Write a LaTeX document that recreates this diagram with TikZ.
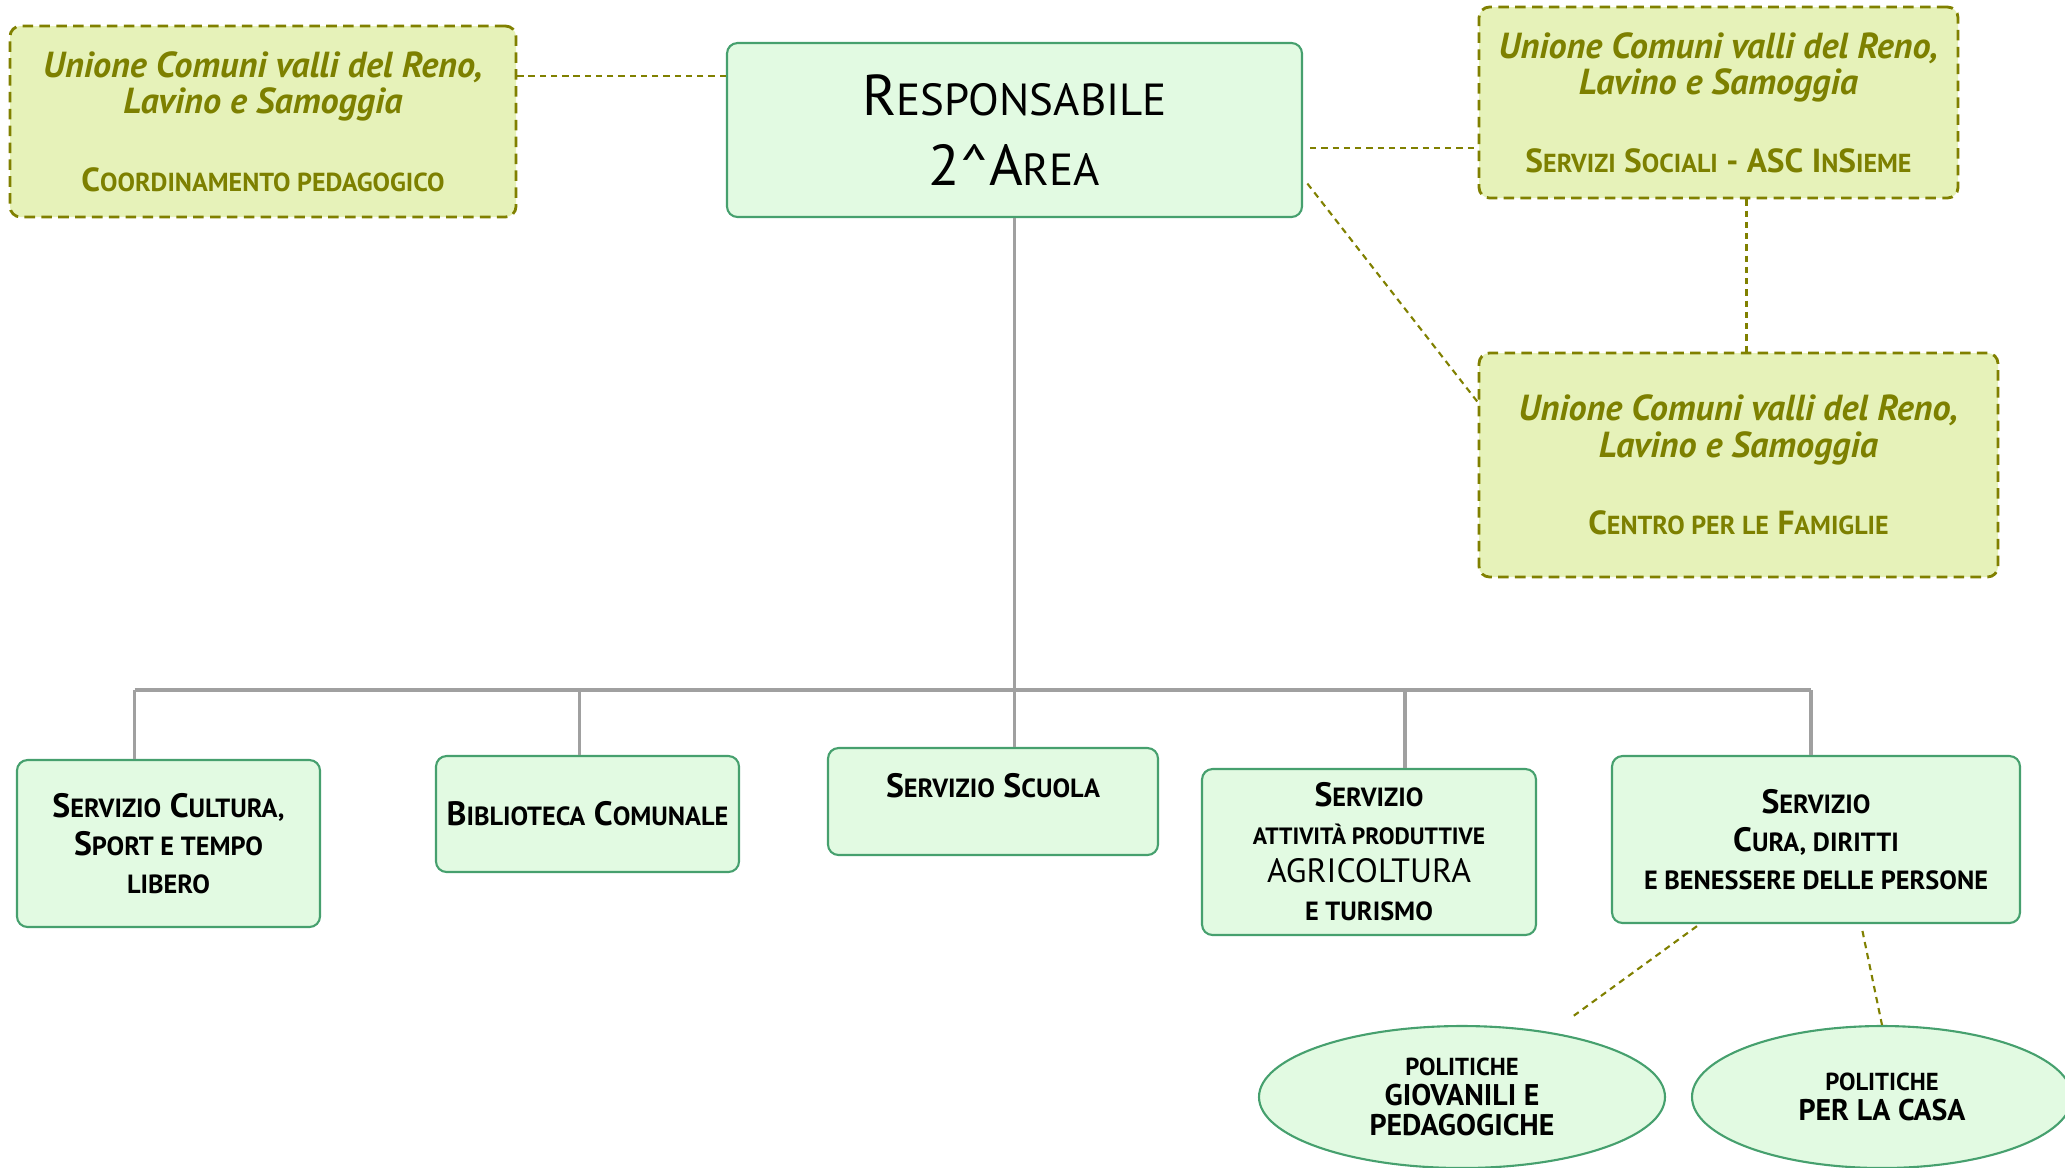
\documentclass[tikz,border=0pt]{standalone}
\usepackage{fontspec}
\setmainfont{PT Sans}
\usetikzlibrary{shapes.geometric}
\definecolor{boxfill}{RGB}{226,250,226}
\definecolor{boxline}{RGB}{70,160,110}
\definecolor{extfill}{RGB}{230,242,185}
\definecolor{olivetext}{RGB}{125,128,0}
\definecolor{olivedash}{RGB}{128,128,0}
\definecolor{treegray}{RGB}{160,160,160}
% small capitals made by hand
\makeatletter
\newcommand\lc[1]{{\@tempdima=\f@size pt\relax
  \@tempdima=.78\@tempdima
  \fontsize{\strip@pt\@tempdima}{\f@baselineskip}\selectfont #1}}
\makeatother
\newcommand\unione{\itshape Unione Comuni valli del Reno,\\ \itshape Lavino e Samoggia\\[11.5pt]
  \upshape\fontsize{9.5}{10.5}\selectfont}
\begin{document}
\begin{tikzpicture}[x=0.1mm,y=-0.1mm,
    box/.style={draw=boxline,fill=boxfill,line width=0.6pt,rounded corners=3pt,
      align=center,inner sep=0pt,font=\fontsize{9.6}{10.8}\selectfont\bfseries},
    ext/.style={draw=olivedash,fill=extfill,line width=0.8pt,dash pattern=on 3pt off 1.8pt,
      rounded corners=3pt,align=center,inner sep=0pt,text=olivetext,
      font=\fontsize{10.3}{10.5}\selectfont\bfseries},
    pol/.style={ellipse,draw=boxline,fill=boxfill,line width=0.6pt,align=center,
      inner sep=0pt,font=\fontsize{8.5}{8.5}\selectfont\bfseries},
    tree/.style={draw=treegray,line width=1pt},
    link/.style={draw=olivedash,line width=0.6pt,dash pattern=on 1.8pt off 1.4pt}]
  \useasboundingbox (0,0) rectangle (2065,1167);
  % upper row
  \node[ext,minimum width=50.6mm,minimum height=19.1mm] (coord) at (263,121.5)
    {\unione C\lc{OORDINAMENTO PEDAGOGICO}};
  \node[box,minimum width=57.5mm,minimum height=17.4mm,
    font=\fontsize{16.4}{20}\selectfont] (resp) at (1014.5,130)
    {R\lc{ESPONSABILE}\\ 2\textasciicircum A\lc{REA}};
  \node[ext,minimum width=47.9mm,minimum height=19.1mm] (asc) at (1718.5,102.5)
    {\unione S\lc{ERVIZI} S\lc{OCIALI} - ASC I\lc{N}S\lc{IEME}};
  \node[ext,minimum width=51.9mm,minimum height=22.4mm] (fam) at (1738.5,465)
    {\unione C\lc{ENTRO PER LE} F\lc{AMIGLIE}};
  \draw[link] ([yshift=5.4mm]resp.west) -- ([yshift=5.4mm]resp.west -| coord.east);
  \draw[link,shorten <=2pt] ([yshift=-1.8mm]resp.east) -- ([yshift=-1.8mm]resp.east -| asc.west);
  \draw[link,shorten <=2pt] ([yshift=-4.8mm]resp.east) -- ([yshift=6.3mm]fam.west);
  \draw[link] ([xshift=0.8mm]fam.north |- asc.south) -- ([xshift=0.8mm]fam.north);
  % services
  \node[box,minimum width=30.3mm,minimum height=16.7mm] (cultura) at (168.5,843.5)
    {S\lc{ERVIZIO} C\lc{ULTURA,}\\ S\lc{PORT E TEMPO}\\ \lc{LIBERO}};
  \node[box,minimum width=30.3mm,minimum height=11.6mm] (biblio) at (587.5,814)
    {B\lc{IBLIOTECA} C\lc{OMUNALE}};
  \node[box,minimum width=33mm,minimum height=10.7mm,text depth=9.4pt] (scuola) at (993,801.5)
    {S\lc{ERVIZIO} S\lc{CUOLA}};
  \node[box,minimum width=33.4mm,minimum height=16.6mm] (attiv) at (1369,852)
    {S\lc{ERVIZIO}\\ {\fontsize{8.6}{10.8}\selectfont\lc{ATTIVITÀ PRODUTTIVE}}\\
     {\mdseries AGRICOLTURA}\\ \lc{E TURISMO}};
  \node[box,minimum width=40.8mm,minimum height=16.7mm] (cura) at (1816,839.5)
    {S\lc{ERVIZIO}\\ C\lc{URA, DIRITTI}\\ \lc{E BENESSERE DELLE PERSONE}};
  \coordinate (bus) at (0,690);
  \draw[tree] (resp) -- (resp.south |- scuola.north);
  \draw[tree] ([xshift=-3.4mm]cultura.north |- bus) -- ([xshift=-0.5mm]cura.north |- bus);
  \draw[tree] ([xshift=-3.4mm]cultura.north) -- ([xshift=-3.4mm]cultura.north |- bus);
  \draw[tree] ([xshift=-0.8mm]biblio.north) -- ([xshift=-0.8mm]biblio.north |- bus);
  \draw[tree] ([xshift=3.6mm]attiv.north) -- ([xshift=3.6mm]attiv.north |- bus);
  \draw[tree] ([xshift=-0.5mm]cura.north) -- ([xshift=-0.5mm]cura.north |- bus);
  % policies
  \node[pol,minimum width=40.6mm,minimum height=14.2mm] (giov) at (1462,1097)
    {{\fontsize{7}{8}\selectfont POLITICHE}\\ GIOVANILI E\\ PEDAGOGICHE};
  \node[pol,minimum width=38mm,minimum height=14.2mm] (casa) at (1882,1097)
    {{\fontsize{7}{8}\selectfont POLITICHE}\\ PER LA CASA};
  \draw[link,shorten <=1pt,shorten >=8pt] (cura) -- (giov);
  \draw[link,shorten <=2pt] ([xshift=4.5mm]cura.south) -- (casa.north);
\end{tikzpicture}
\end{document}
